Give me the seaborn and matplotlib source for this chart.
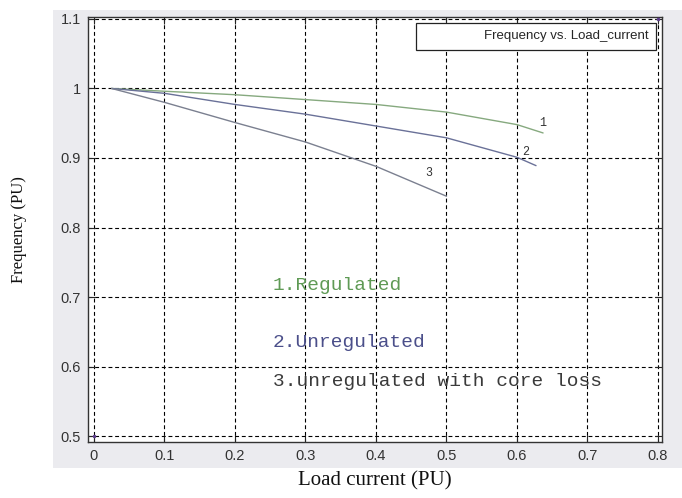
import matplotlib
matplotlib.use("Agg")
import matplotlib.pyplot as plt
from matplotlib.patches import Rectangle
from matplotlib.lines import Line2D
import numpy as np
import pandas as pd
import seaborn as sns

# Frequency (PU) vs load current (PU) for three operating modes
x_regulated = [0.025, 0.1, 0.2, 0.3, 0.4, 0.5, 0.6, 0.637]
f_regulated = [1.0, 0.996, 0.991, 0.984, 0.977, 0.966, 0.948, 0.936]

x_unregulated = [0.025, 0.1, 0.2, 0.3, 0.4, 0.5, 0.6, 0.627]
f_unregulated = [1.0, 0.993, 0.977, 0.963, 0.946, 0.929, 0.901, 0.889]

x_coreloss = [0.025, 0.1, 0.2, 0.3, 0.4, 0.5]
f_coreloss = [1.0, 0.98, 0.951, 0.923, 0.888, 0.845]

series_names = ["1", "2", "3"]
series_colors = ["#86a97f", "#6a7198", "#7b8090"]
label_text = ["1.Regulated", "2.Unregulated", "3.unregulated with core loss"]
label_colors = ["#5f9a55", "#4b4f8a", "#3a3a3a"]

x_ticks = [0, 0.1, 0.2, 0.3, 0.4, 0.5, 0.6, 0.7, 0.8]
y_ticks = [0.5, 0.6, 0.7, 0.8, 0.9, 1.0, 1.1]
y_tick_labels = ["0.5", "0.6", "0.7", "0.8", "0.9", "1", "1.1"]

frames = []
for name, xs, ys in zip(series_names,
                        [x_regulated, x_unregulated, x_coreloss],
                        [f_regulated, f_unregulated, f_coreloss]):
    frames.append(pd.DataFrame({"load": xs, "freq": ys, "curve": name}))
df = pd.concat(frames, ignore_index=True)

sns.set_style("white")

fig = plt.figure(figsize=(6.82, 4.98), dpi=100)
fig.patch.set_facecolor("white")
# grey panel behind the plot area
fig.patches.append(Rectangle((0.078, 0.06), 0.922, 0.92, transform=fig.transFigure,
                             facecolor="#ebebef", edgecolor="none", zorder=-10))

ax = fig.add_axes([0.129, 0.1124, 0.8417, 0.8535])
ax.set_facecolor("white")

sns.lineplot(data=df, x="load", y="freq", hue="curve", palette=series_colors,
             sort=False, legend=False, linewidth=1.0, ax=ax, zorder=3)

# axis-limit marker points
ax.plot([0, 0.8], [0.5, 1.1], linestyle="none", marker=".", markersize=3,
        color="#5a3a8a", zorder=4)

ax.set_xlim(-0.0085, 0.8057)
ax.set_ylim(0.4915, 1.1028)
ax.set_xticks(x_ticks)
ax.set_xticklabels([f"{v:g}" for v in x_ticks])
ax.set_yticks(y_ticks)
ax.set_yticklabels(y_tick_labels)
ax.tick_params(axis="both", direction="in", length=5, width=0.8, labelsize=10.5,
               labelcolor="#333333", top=True, right=True, bottom=True, left=True,
               pad=5)
for lbl in ax.get_xticklabels() + ax.get_yticklabels():
    lbl.set_family("Liberation Sans")

ax.grid(True, color="black", linestyle=(0, (3.5, 2.5)), linewidth=0.8, zorder=1)
for s in ax.spines.values():
    s.set_color("#333333")
    s.set_linewidth(1.0)

ax.set_xlabel("Load current (PU)", family="Liberation Serif", fontsize=15,
              labelpad=6, color="#111111")
ax.set_ylabel("Frequency (PU)", family="Liberation Serif", fontsize=12,
              labelpad=24, color="#111111")

# curve number tags
tag_pos = [(0.636, 0.951), (0.613, 0.909), (0.475, 0.879)]
for name, (tx, ty) in zip(series_names, tag_pos):
    ax.text(tx, ty, name, family="Liberation Mono", fontsize=8.5,
            color="#333333", ha="center", va="center", zorder=5)

# descriptive labels
label_y = [0.716, 0.635, 0.579]
for txt, col, ty in zip(label_text, label_colors, label_y):
    ax.text(0.254, ty, txt, family="Liberation Mono", fontsize=14,
            color=col, ha="left", va="center", zorder=5)

leg = ax.legend(handles=[Line2D([], [], color="white", linewidth=0)],
                labels=["Frequency vs. Load_current"], loc="upper right",
                frameon=True, fancybox=False, handlelength=3.8,
                prop={"family": "Liberation Sans", "size": 9.5},
                borderaxespad=0.45, borderpad=0.55)
leg.get_frame().set_edgecolor("#222222")
leg.get_frame().set_linewidth(0.9)
leg.get_frame().set_alpha(1.0)

fig.savefig("out.png", dpi=100)
